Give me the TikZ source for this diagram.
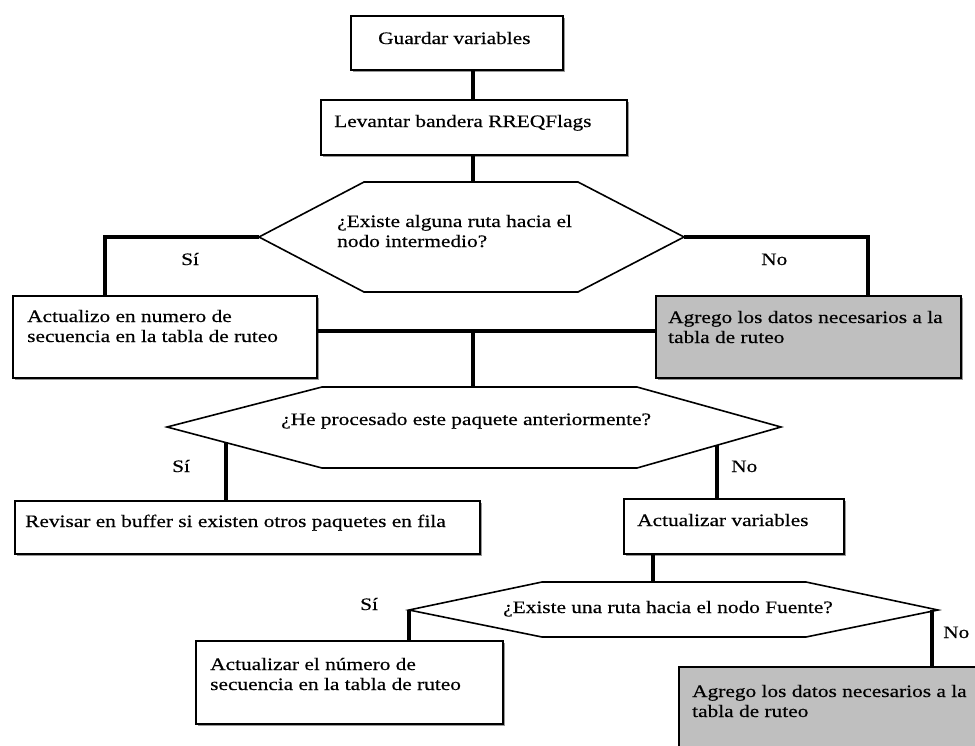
\documentclass[tikz,border=0pt]{standalone}
\usepackage{fontspec}
\setmainfont{Liberation Serif}[FakeStretch=1.22,FakeBold=0.4]
\usetikzlibrary{calc,shadows}

\begin{document}
\begin{tikzpicture}[x=1pt,y=-1pt,
  every node/.style={font=\fontsize{17.5}{20}\selectfont, text=black},
  box/.style={draw=black, line width=1.6pt, fill=white, inner sep=0pt, anchor=north west,
    drop shadow={shadow xshift=2.5pt, shadow yshift=-2.5pt, fill=black, opacity=0.4}},
  graybox/.style={box, fill=gray!50},
  hexa/.style={draw=black, line width=1.6pt, fill=white, line join=miter},
  link/.style={draw=black, line width=4pt},
  txt/.style={anchor=base west, inner sep=0pt, align=left},
  lbl/.style={anchor=base west, inner sep=0pt}]

\useasboundingbox (0,0) rectangle (975,745);

% process boxes
\node[box, minimum width=212pt, minimum height=54pt] (g) at (350,15) {};
\node[box, minimum width=306pt, minimum height=55pt] (l) at (320,99) {};
\node[box, minimum width=304pt, minimum height=82pt] (a) at (12,295) {};
\node[graybox, minimum width=305pt, minimum height=82pt] (b) at (655,295) {};
\node[box, minimum width=465pt, minimum height=53pt] (c) at (14,500) {};
\node[box, minimum width=220pt, minimum height=55pt] (e) at (623,498) {};
\node[box, minimum width=307pt, minimum height=83pt] (f) at (195,640) {};
\node[graybox, minimum width=330pt, minimum height=110pt] (h) at (678,666) {};

% decision hexagons
\coordinate (h1L) at (259,237);  \coordinate (h1R) at (684,237);
\coordinate (h1TL) at (364,182); \coordinate (h1TR) at (578,182);
\coordinate (h1BL) at (364,292); \coordinate (h1BR) at (578,292);
\coordinate (h1T) at (473,182);
\draw[hexa] (h1L) -- (h1TL) -- (h1TR) -- (h1R) -- (h1BR) -- (h1BL) -- cycle;

\coordinate (h2L) at (167,427);  \coordinate (h2R) at (781,427);
\coordinate (h2TL) at (322,387); \coordinate (h2TR) at (637,387);
\coordinate (h2BL) at (322,468); \coordinate (h2BR) at (637,468);
\coordinate (h2T) at (473,387);
\draw[hexa] (h2L) -- (h2TL) -- (h2TR) -- (h2R) -- (h2BR) -- (h2BL) -- cycle;

\coordinate (h3L) at (409,610);  \coordinate (h3R) at (938,610);
\coordinate (h3TL) at (542,582); \coordinate (h3TR) at (806,582);
\coordinate (h3BL) at (542,637); \coordinate (h3BR) at (806,637);
\coordinate (h3T) at (653,582);
\draw[hexa] (h3L) -- (h3TL) -- (h3TR) -- (h3R) -- (h3BR) -- (h3BL) -- cycle;

% connectors
\draw[link] (g.south -| h1T) -- (l.north -| h1T);
\draw[link] (l.south -| h1T) -- (h1T);
\draw[link] (h1L) -| ($(a.north west)+(93,0)$);
\draw[link] (h1R) -| ($(b.north west)+(213,0)$);
\coordinate (j) at ($(a.east)+(0,-6)$);
\draw[link] (j) -- (j -| b.west);
\draw[link] (j -| h2T) -- (h2T);
\coordinate (s2) at ($(h2L)!0.38!(h2BL)$);
\draw[link] (s2) -- (s2 |- c.north);
\coordinate (n2) at ($(h2R)!0.444!(h2BR)$);
\draw[link] (n2) -- (n2 |- e.north);
\draw[link] (e.south -| h3T) -- (h3T);
\draw[link] (h3L) -- (h3L |- f.north);
\coordinate (n3) at ($(h3R)+(-6,0)$);
\draw[link] (n3) -- (n3 |- h.north);

% texts (two-line nodes are placed by the baseline of their last line)
\node[txt] (tg) at (378,44) {Guardar variables};
\node[txt] (tl) at (334,127) {Levantar bandera RREQFlags};
\node[txt] (th1) at (337,247) {¿Existe alguna ruta hacia el\\nodo intermedio?};
\node[txt] (ta) at (27,342) {Actualizo en numero de\\secuencia en la tabla de ruteo};
\node[txt] (tb) at (668,343) {Agrego los datos necesarios a la\\tabla de ruteo};
\node[txt] (th2) at (281,425) {¿He procesado este paquete anteriormente?};
\node[txt] (tc) at (25,527) {Revisar en buffer si existen otros paquetes en fila};
\node[txt] (te) at (637,526) {Actualizar variables};
\node[txt] (th3) at (503,613) {¿Existe una ruta hacia el nodo Fuente?};
\node[txt] (tf) at (210,690) {Actualizar el número de\\secuencia en la tabla de ruteo};
\node[txt] (th) at (692,717) {Agrego los datos necesarios a la\\tabla de ruteo};

% branch labels
\node[lbl] (s1) at (181,265) {Sí};
\node[lbl] (no1) at (761,265) {No};
\node[lbl] (s2l) at (172,472) {Sí};
\node[lbl] (no2) at (731,472) {No};
\node[lbl] (s3) at (360,610) {Sí};
\node[lbl] (no3) at (943,638) {No};
\end{tikzpicture}
\end{document}
